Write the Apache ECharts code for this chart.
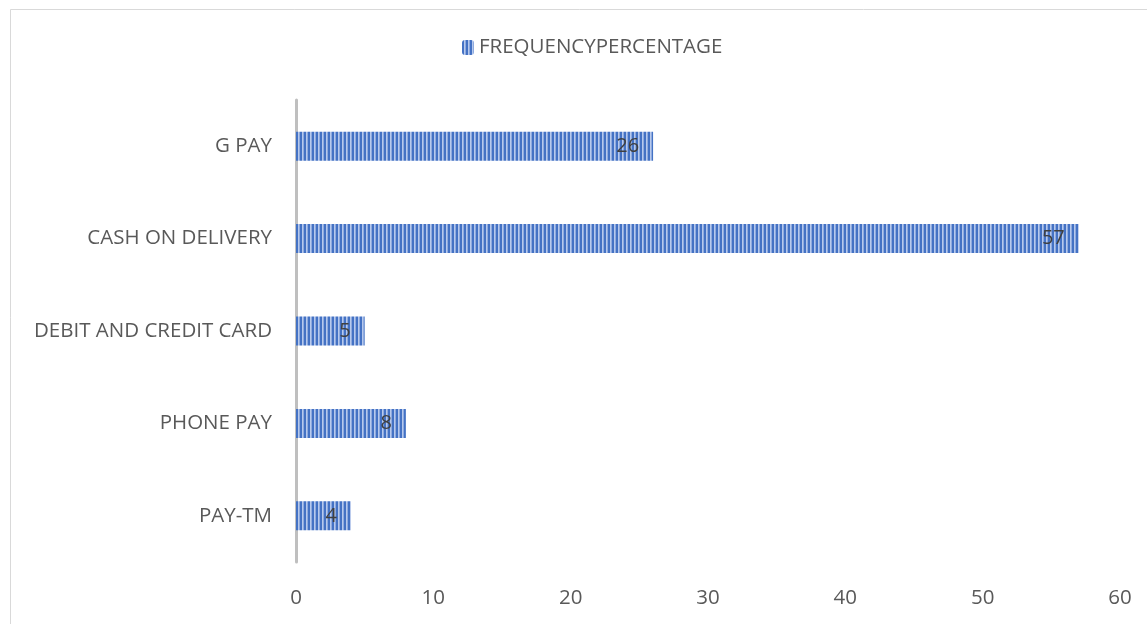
<!DOCTYPE html>
<html lang="en" style="height: 100%">
<head>
  <meta charset="utf-8">
</head>
<body style="height: 100%; margin: 0">
<div id="container" style="height: 100%"></div>

<script type="text/javascript" src="https://cdn.jsdelivr.net/npm/echarts@6/dist/echarts.min.js"></script>

<script type="text/javascript">
  var categories = ['PAY-TM', 'PHONE PAY', 'DEBIT AND CREDIT CARD', 'CASH ON DELIVERY', 'G PAY'];
  var values = [4, 8, 5, 57, 26];
  var seriesName = 'FREQUENCYPERCENTAGE';

  // vertical stripe fill like the office "light vertical" pattern
  var tile = document.createElement('canvas');
  tile.width = 4;
  tile.height = 4;
  var ctx = tile.getContext('2d');
  ctx.fillStyle = '#4472C4';
  ctx.fillRect(0, 0, 4, 4);
  ctx.fillStyle = '#b7c9ec';
  ctx.fillRect(2, 0, 1, 4);
  ctx.fillStyle = '#8eaadf';
  ctx.fillRect(3, 0, 1, 4);

  var dom = document.getElementById('container');
  var myChart = echarts.init(dom, null, { renderer: 'canvas' });

  var font = '"Open Sans", sans-serif';

  var option = {
    animation: false,
    backgroundColor: '#ffffff',
    graphic: [{
      type: 'rect',
      shape: { x: 10.5, y: 9.5, width: 1300, height: 800 },
      style: { fill: 'none', stroke: '#d9d9d9', lineWidth: 1 },
      silent: true
    }],
    legend: {
      top: 32,
      left: 457,
      itemWidth: 12,
      itemHeight: 15,
      itemGap: 8,
      textStyle: { fontFamily: font, fontSize: 20.5, color: '#595959' },
      data: [seriesName]
    },
    grid: { left: 296, right: 27, top: 100, bottom: 62 },
    xAxis: {
      type: 'value',
      min: 0,
      max: 60,
      interval: 10,
      axisLine: { show: false },
      axisTick: { show: false },
      splitLine: { show: false },
      axisLabel: { fontFamily: font, fontSize: 20.5, color: '#595959', margin: 26 }
    },
    yAxis: {
      type: 'category',
      data: categories,
      offset: 3,
      axisLine: { show: true, lineStyle: { color: '#bfbfbf', width: 3 } },
      axisTick: { show: false },
      axisLabel: { fontFamily: font, fontSize: 20.5, color: '#595959', margin: 21 }
    },
    series: [{
      name: seriesName,
      type: 'bar',
      data: values,
      barWidth: 29,
      itemStyle: { color: { image: tile, repeat: 'repeat' } },
      label: {
        show: true,
        position: 'insideRight',
        distance: 14,
        fontFamily: font,
        fontSize: 20,
        color: '#404040'
      }
    }]
  };

  myChart.setOption(option);
  window.addEventListener('resize', myChart.resize);
</script>
</body>
</html>
